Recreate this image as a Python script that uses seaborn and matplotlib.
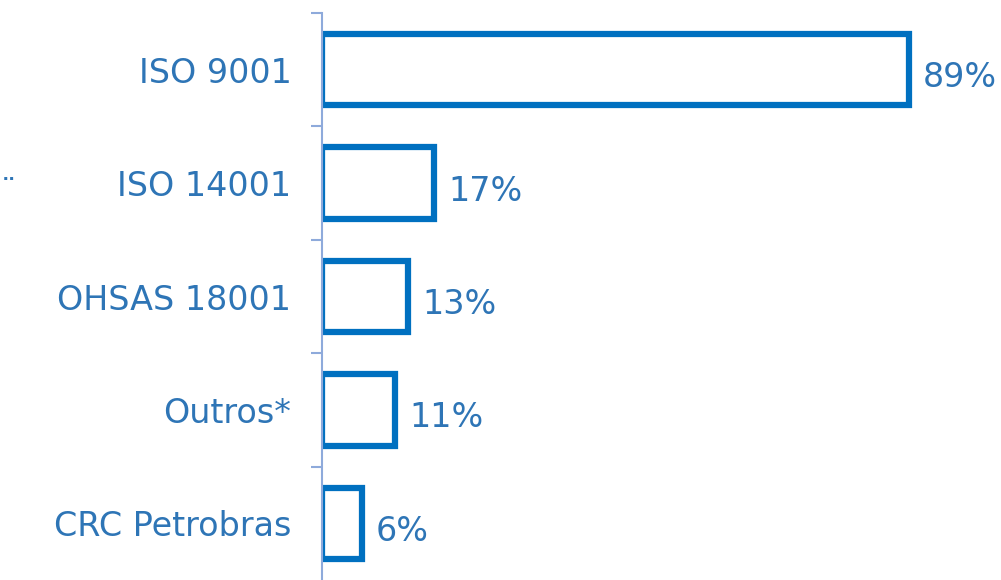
import matplotlib
matplotlib.use("Agg")
import matplotlib.pyplot as plt
import seaborn as sns
import pandas as pd

# ── Data ────────────────────────────────────────────────────────────────────
categories = ["ISO 9001", "ISO 14001", "OHSAS 18001", "Outros*", "CRC Petrobras"]
values = [89, 17, 13, 11, 6]
value_labels = ["89%", "17%", "13%", "11%", "6%"]

df = pd.DataFrame({"cert": categories, "pct": values})

EDGE = "#0070c0"
TEXT = "#2e75b6"
AXIS = "#8eaadb"

sns.set_theme(style="white")
plt.rcParams["font.family"] = ["DejaVu Sans"]

fig = plt.figure(figsize=(10.01, 5.8), dpi=100)
ax = fig.add_axes([322 / 1001, 0.0, 1 - 322 / 1001, 1 - 13 / 580])

sns.barplot(
    data=df, x="pct", y="cert", orient="h", order=categories,
    color="white", edgecolor=EDGE, linewidth=4.5, width=0.63, ax=ax,
)

ax.set_xlim(0, 103)
ax.set_ylim(4.5, -0.5)
ax.set_xlabel("")
ax.set_ylabel("")
ax.set_xticks([])

for s in ["top", "right", "bottom"]:
    ax.spines[s].set_visible(False)
ax.spines["left"].set_color(AXIS)
ax.spines["left"].set_linewidth(1.5)

ax.set_yticks(range(len(categories)))
ax.set_yticklabels(categories, fontsize=24, color=TEXT)
for t in ax.get_yticklabels():
    t.set_va("center_baseline")
ax.tick_params(axis="y", which="major", length=0, pad=22)
# separator ticks between categories (bottom one is cut off in the original)
ax.set_yticks([i - 0.5 for i in range(len(categories))], minor=True)
ax.tick_params(axis="y", which="minor", left=True, length=8, width=1.5, color=AXIS)

for i, (v, lab) in enumerate(zip(values, value_labels)):
    ax.text(v + 2.2, i + 0.04, lab, va="center_baseline", ha="left", fontsize=24, color=TEXT)

fig.text(1 / 1001, 1 - 192 / 580, "¨", fontsize=22, color=TEXT, va="center")

fig.savefig("out.png", dpi=100)
